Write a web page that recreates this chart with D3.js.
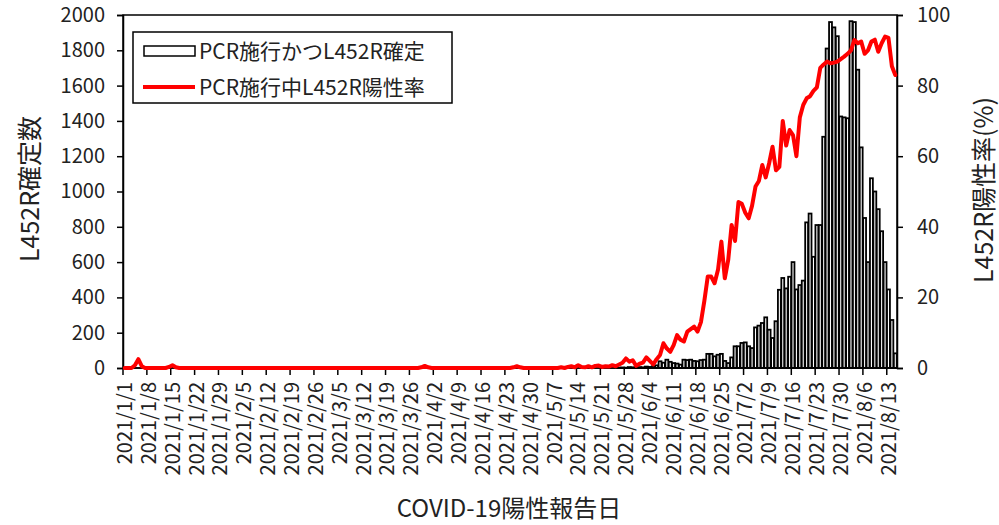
<!DOCTYPE html>
<html><head><meta charset="utf-8">
<script src="https://cdn.jsdelivr.net/npm/d3@7"></script>
<style>
body{margin:0;background:#fff;}
svg{display:block;}
text{font-family:"Noto Sans CJK JP","Lato",sans-serif;fill:#222;}
</style></head>
<body><svg id="c" width="999" height="525"></svg>
<script>
// ---- data ----
const startDate = "2021-01-01";
const dayCount = 227; // 2021/1/1 .. 2021/8/15
const tickLabels = ["2021/1/1","2021/1/8","2021/1/15","2021/1/22","2021/1/29","2021/2/5","2021/2/12","2021/2/19","2021/2/26","2021/3/5","2021/3/12","2021/3/19","2021/3/26","2021/4/2","2021/4/9","2021/4/16","2021/4/23","2021/4/30","2021/5/7","2021/5/14","2021/5/21","2021/5/28","2021/6/4","2021/6/11","2021/6/18","2021/6/25","2021/7/2","2021/7/9","2021/7/16","2021/7/23","2021/7/30","2021/8/6","2021/8/13"];
const leftTicks = [0,200,400,600,800,1000,1200,1400,1600,1800,2000];
const rightTicks = [0,20,40,60,80,100];
// L452R confirmed counts per day
const counts = [
0,0,0,0,0,0,0,0,0,0, 0,0,0,0,0,0,0,0,0,0,
0,0,0,0,0,0,0,0,0,0, 0,0,0,0,0,0,0,0,0,0,
0,0,0,0,0,0,0,0,0,0, 0,0,0,0,0,0,0,0,0,0,
0,0,0,0,0,0,0,0,0,0, 0,0,0,0,0,0,0,0,0,0,
0,0,0,0,0,0,0,0,0,0, 0,0,0,0,0,0,0,0,0,0,
0,0,0,0,0,0,0,0,0,0, 0,0,0,0,0,0,0,0,0,0,
0,0,0,0,0,0,0,0,0,0, 0,0,0,0,0,0,0,0,0,0,
0,0,0,0,0,2,3,2,5,4,
3,5,4,8,6,10,15,38,30,47,
35,28,25,19,47,45,47,40,38,45,
47,80,80,66,75,80,40,28,60,123,
123,142,145,123,113,230,240,255,287,217,
170,265,443,510,451,517,600,445,470,495,
825,875,630,810,810,1310,1810,1960,1930,1880,
1425,1420,1415,1965,1960,1690,1250,850,600,1075,
1000,900,775,600,445,272,83
];
// L452R positive rate (%) per day
const rates = [
0,0,0,0.8,2.5,0.5,0,0,0,0, 0,0,0,0.3,0.8,0.2,0,0,0,0,
0,0,0,0,0,0,0,0,0,0, 0,0,0,0,0,0,0,0,0,0,
0,0,0,0,0,0,0,0,0,0, 0,0,0,0,0,0,0,0,0,0,
0,0,0,0,0,0,0,0,0,0, 0,0,0,0,0,0,0,0,0,0,
0,0,0,0,0,0,0,0.2,0.6,0.2, 0,0,0,0,0,0,0,0,0,0,
0,0,0,0,0,0,0,0,0,0, 0,0,0,0,0.2,0.5,0.2,0,0,0,
0,0,0,0,0,0,0,0,0.2,0, 0.3,0.5,0.2,0.8,0.3,0.2,0.5,0.2,0.6,0.7,
0.3,0.5,0.4,0.8,0.5,1.0,1.5,2.7,1.8,2.2,
0.6,1.2,1.5,3.0,2.0,1.0,2.5,3.7,7.0,5.5,
4.6,6.5,9.3,8.0,7.5,10.3,11.0,11.7,10.3,13.0,
19.0,25.9,25.9,24.0,27.8,35.8,25.4,30.6,40.5,36.0,
47.0,46.5,44.0,42.4,46.0,51.4,53.0,57.5,54.0,58.0,
62.7,56.0,57.0,70.0,63.0,67.4,66.0,60.0,71.0,74.5,
76.4,77.0,78.5,79.5,85.0,86.0,86.8,86.3,86.5,86.8,
87.5,88.2,89.0,90.0,92.9,92.0,92.5,89.0,90.0,92.5,
93.0,89.6,92.0,93.9,93.5,85.5,83.0
];
const legendLabels = ["PCR施行かつL452R確定","PCR施行中L452R陽性率"];
const titles = {left:"L452R確定数", right:"L452R陽性率(%)", bottom:"COVID-19陽性報告日"};

// ---- chart ----
const svg = d3.select("#c");
const L=123, R=897, T=15, B=368;
const start = new Date(startDate+"T00:00:00");
const days = d3.timeDay.range(start, d3.timeDay.offset(start, dayCount));
const fmt = d => `${d.getFullYear()}/${d.getMonth()+1}/${d.getDate()}`;
const cats = days.map(fmt);
const pad = 0.15;
const x = d3.scaleBand().domain(cats).range([L,R]).paddingInner(pad).paddingOuter(pad/2);
const yL = d3.scaleLinear().domain([0,2000]).range([B,T]);
const yR = d3.scaleLinear().domain([0,100]).range([B,T]);
const step = x.step(), bw = x.bandwidth();
const boundary = i => x(cats[i]) - step*pad/2;

// bars
svg.append("g").selectAll("rect").data(counts.map((v,i)=>({c:cats[i],v})).filter(d=>d.v>0))
  .join("rect")
  .attr("x", d=>x(d.c)).attr("width", bw)
  .attr("y", d=>yL(d.v)).attr("height", d=>B-yL(d.v))
  .attr("fill","#fff").attr("stroke","#000").attr("stroke-width",1.8);

// plot frame
svg.append("rect").attr("x",L).attr("y",T).attr("width",R-L).attr("height",B-T)
  .attr("fill","none").attr("stroke","#000").attr("stroke-width",1.5);

// left axis
const axL = svg.append("g").attr("transform",`translate(${L},0)`)
  .call(d3.axisLeft(yL).tickValues(leftTicks).tickSize(6).tickPadding(12).tickFormat(d3.format("d")));
// right axis
const axR = svg.append("g").attr("transform",`translate(${R},0)`)
  .call(d3.axisRight(yR).tickValues(rightTicks).tickSize(6).tickPadding(14).tickFormat(d3.format("d")));
[axL,axR].forEach(a=>{
  a.select(".domain").attr("stroke","#000").attr("stroke-width",1.5);
  a.selectAll(".tick line").attr("stroke","#000").attr("stroke-width",1.5);
  a.selectAll("text").attr("font-size",20).attr("fill","#222").attr("font-family",'"Noto Sans CJK JP",sans-serif');
});

// bottom axis ticks at category boundaries every 7 days
const tickIdx = tickLabels.map(l=>cats.indexOf(l));
svg.append("g").selectAll("line").data(tickIdx).join("line")
  .attr("x1",i=>boundary(i)).attr("x2",i=>boundary(i)).attr("y1",B).attr("y2",B+7)
  .attr("stroke","#000").attr("stroke-width",1.5);
svg.append("line").attr("x1",L).attr("x2",R).attr("y1",B).attr("y2",B).attr("stroke","#000").attr("stroke-width",1.5);
svg.append("g").selectAll("text").data(tickLabels).join("text")
  .attr("transform",l=>`translate(${x(l)+bw/2},${382}) rotate(-90)`)
  .attr("text-anchor","end").attr("dy","0.36em").attr("font-size",20).text(l=>l);

// line
const line = d3.line().x((v,i)=>x(cats[i])+bw/2).y(v=>yR(v));
svg.append("path").datum(rates).attr("d",line).attr("fill","none")
  .attr("stroke","#ff0000").attr("stroke-width",4).attr("stroke-linejoin","round").attr("stroke-linecap","round");

// titles
svg.append("text").attr("transform","translate(30,189) rotate(-90)").attr("text-anchor","middle")
  .attr("dy","0.35em").attr("font-size",25).text(titles.left);
svg.append("text").attr("transform","translate(984,190) rotate(-90)").attr("text-anchor","middle")
  .attr("dy","0.35em").attr("font-size",25).text(titles.right);
svg.append("text").attr("x",509).attr("y",509).attr("text-anchor","middle")
  .attr("dy","0.35em").attr("font-size",24).text(titles.bottom);

// legend
const lg = svg.append("g");
lg.append("rect").attr("x",133).attr("y",32).attr("width",319).attr("height",71)
  .attr("fill","#fff").attr("stroke","#000").attr("stroke-width",1.5);
lg.append("rect").attr("x",144).attr("y",46).attr("width",51).attr("height",10)
  .attr("fill","#fff").attr("stroke","#000").attr("stroke-width",1.5);
lg.append("line").attr("x1",143).attr("x2",195).attr("y1",87).attr("y2",87)
  .attr("stroke","#ff0000").attr("stroke-width",4);
lg.selectAll("text.l").data(legendLabels).join("text").attr("class","l")
  .attr("x",199).attr("y",(d,i)=>i?87:51).attr("dy","0.36em").attr("font-size",21).text(d=>d);
</script></body></html>
